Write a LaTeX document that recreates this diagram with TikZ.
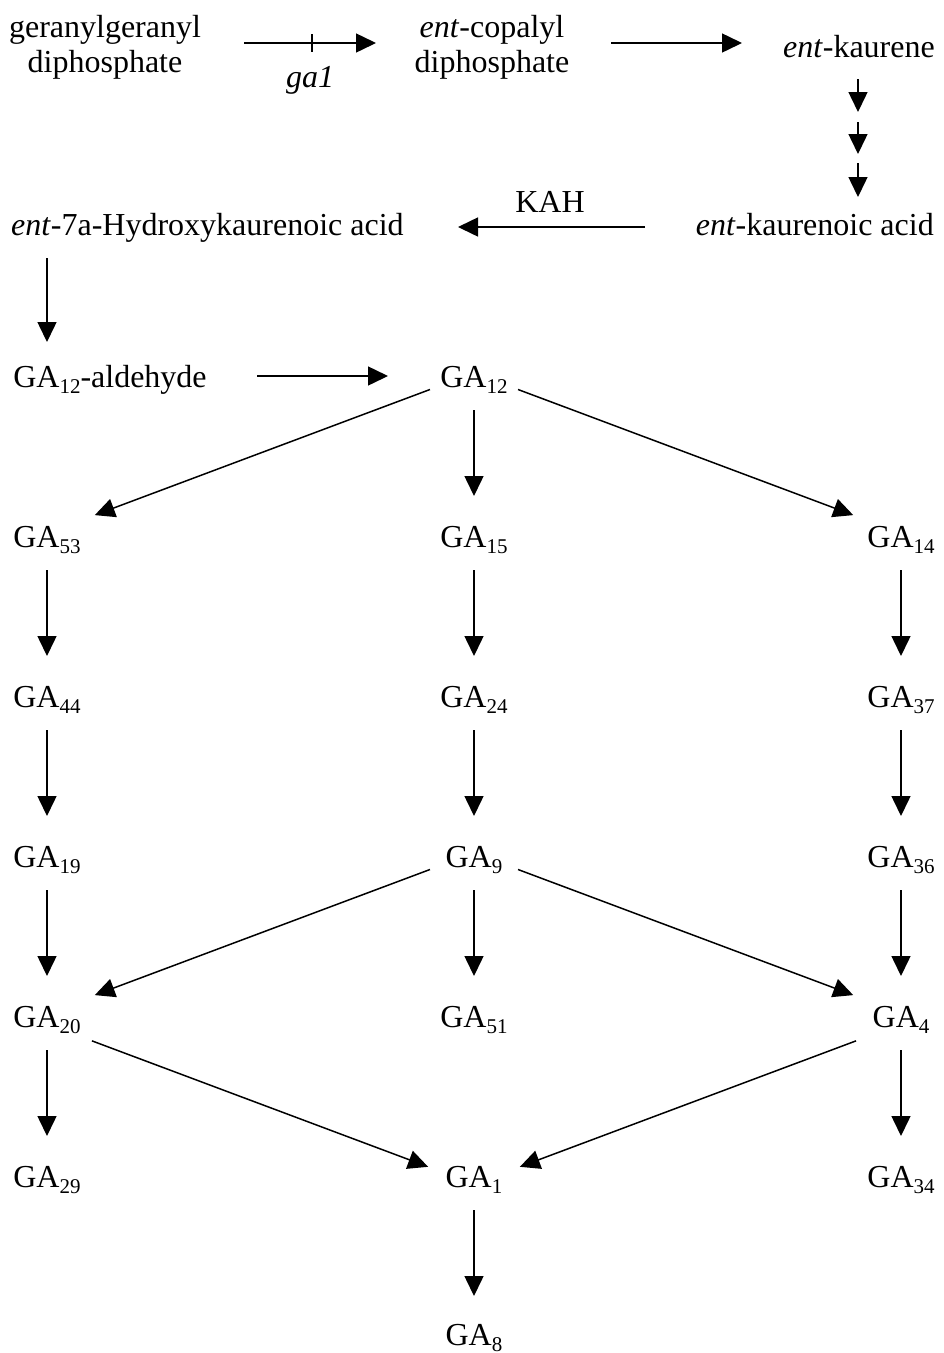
\documentclass[tikz,border=0pt]{standalone}
\usepackage{fontspec}
\setmainfont{Liberation Serif}
\usetikzlibrary{arrows.meta,calc}
\newcommand\gsub[1]{\raisebox{-6pt}{\fontsize{21}{21}\selectfont #1}}
\begin{document}
\begin{tikzpicture}[x=1pt,y=-1pt,
  every node/.style={inner sep=0pt, font=\fontsize{32}{35}\selectfont},
  lbl/.style={anchor=base},
  arr/.style={line width=1.5pt, -{Triangle[length=20pt,width=19pt]}},
  vdown/.style={arr, shorten <=23pt, shorten >=51pt},
  diagup/.style={arr, shorten <=47pt, shorten >=51pt},
  diaglow/.style={arr, shorten <=48pt, shorten >=49pt}]
\useasboundingbox (0,0) rectangle (944,1353);

% top part
\node[lbl] (gg) at (105,37) {\begin{tabular}[t]{@{}c@{}}geranylgeranyl\\diphosphate\end{tabular}};
\node[lbl] (cop) at (492,37) {\begin{tabular}[t]{@{}c@{}}\textit{ent}-copalyl\\diphosphate\end{tabular}};
\node[anchor=base east] (kaur) at (935,57) {\textit{ent}-kaurene};
\node[anchor=base east] (kaurac) at (934,235) {\textit{ent}-kaurenoic acid};
\node[anchor=base west] (ent7a) at (11,235) {\textit{ent}-7a-Hydroxykaurenoic acid};
\node[lbl] (kah) at (550,212) {KAH};
\node[lbl] (galbl) at (310,87) {\textit{ga1}};
\node[lbl] (gaald) at (110,387) {GA\gsub{12}-aldehyde};

% GA grid
\node[lbl] (ga12) at (474,387) {GA\gsub{12}};
\node[lbl] (ga53) at (47,547) {GA\gsub{53}};
\node[lbl] (ga15) at (474,547) {GA\gsub{15}};
\node[lbl] (ga14) at (901,547) {GA\gsub{14}};
\node[lbl] (ga44) at (47,707) {GA\gsub{44}};
\node[lbl] (ga24) at (474,707) {GA\gsub{24}};
\node[lbl] (ga37) at (901,707) {GA\gsub{37}};
\node[lbl] (ga19) at (47,867) {GA\gsub{19}};
\node[lbl] (ga9) at (474,867) {GA\gsub{9}};
\node[lbl] (ga36) at (901,867) {GA\gsub{36}};
\node[lbl] (ga20) at (47,1027) {GA\gsub{20}};
\node[lbl] (ga51) at (474,1027) {GA\gsub{51}};
\node[lbl] (ga4) at (901,1027) {GA\gsub{4}};
\node[lbl] (ga29) at (47,1187) {GA\gsub{29}};
\node[lbl] (ga1) at (474,1187) {GA\gsub{1}};
\node[lbl] (ga34) at (901,1187) {GA\gsub{34}};
\node[lbl] (ga8) at (474,1345) {GA\gsub{8}};

% top connectors
\draw[arr] ($(gg.base)+(139,6)$) -- ($(cop.base)+(-116,6)$);
\draw[line width=1.4pt] ($(gg.base)+(207,-3)$) -- ($(gg.base)+(207,15)$);
\draw[arr] ($(cop.base)+(119,6)$) -- ($(kaur.base east)+(-193,-14)$);
\draw[arr] ($(kaur.base east)+(-77,22)$) -- ($(kaur.base east)+(-77,55)$);
\draw[arr] ($(kaur.base east)+(-77,65)$) -- ($(kaur.base east)+(-77,97)$);
\draw[arr] ($(kaur.base east)+(-77,106)$) -- ($(kaurac.base east)+(-76,-38)$);
\draw[arr] ($(kaurac.base east)+(-289,-8)$) -- ($(ent7a.base west)+(447,-8)$);
\draw[arr, shorten <=23pt, shorten >=45pt] (ent7a.base -| ga53.base) -- (gaald.base -| ga53.base);
\draw[arr] ($(gaald.base)+(147,-11)$) -- ($(ga12.base)+(-86,-11)$);

% GA connectors
\draw[diagup] ($(ga12.base)+(0,-14)$) -- ($(ga53.base)+(0,-14)$);
\draw[diagup] ($(ga12.base)+(0,-14)$) -- ($(ga14.base)+(0,-14)$);
\draw[vdown] (ga12.base) -- (ga15.base);
\draw[vdown] (ga53.base) -- (ga44.base);
\draw[vdown] (ga15.base) -- (ga24.base);
\draw[vdown] (ga14.base) -- (ga37.base);
\draw[vdown] (ga44.base) -- (ga19.base);
\draw[vdown] (ga24.base) -- (ga9.base);
\draw[vdown] (ga37.base) -- (ga36.base);
\draw[vdown] (ga19.base) -- (ga20.base);
\draw[vdown] (ga9.base) -- (ga51.base);
\draw[vdown] (ga36.base) -- (ga4.base);
\draw[diagup] ($(ga9.base)+(0,-14)$) -- ($(ga20.base)+(0,-14)$);
\draw[diagup] ($(ga9.base)+(0,-14)$) -- ($(ga4.base)+(0,-14)$);
\draw[vdown] (ga20.base) -- (ga29.base);
\draw[vdown] (ga4.base) -- (ga34.base);
\draw[diaglow] ($(ga20.base)+(0,-3)$) -- ($(ga1.base)+(0,-3)$);
\draw[diaglow] ($(ga4.base)+(0,-3)$) -- ($(ga1.base)+(0,-3)$);
\draw[arr, shorten <=23pt, shorten >=49pt] (ga1.base) -- (ga8.base);
\end{tikzpicture}
\end{document}
